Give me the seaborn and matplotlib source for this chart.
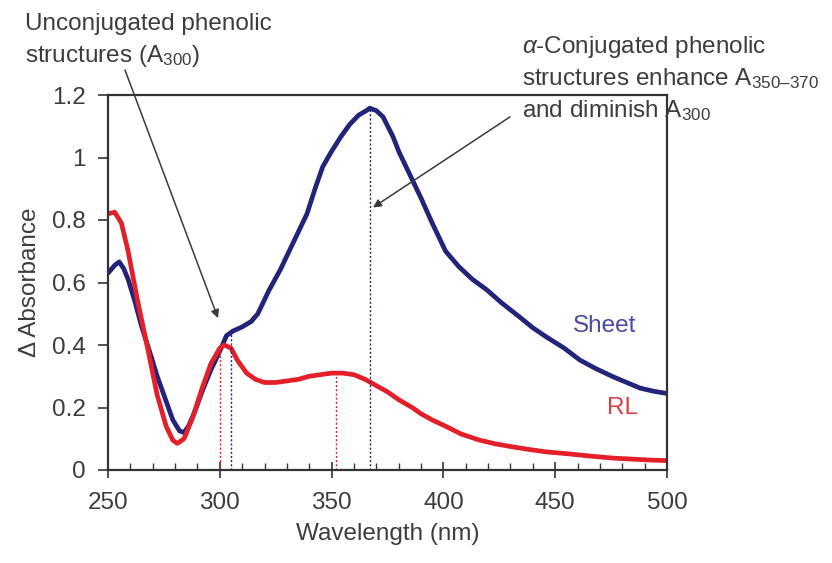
import numpy as np
import pandas as pd
import matplotlib
matplotlib.use("Agg")
import matplotlib.pyplot as plt
import seaborn as sns
from matplotlib.ticker import MultipleLocator, FuncFormatter

# ---------------- data ----------------
sheet_wl = [250, 253, 255, 257, 259, 262, 265, 269, 272, 276, 279, 282, 284, 286, 289,
            292, 296, 300, 303, 306, 310, 314, 317, 322, 327, 331, 335, 339, 342.6, 346,
            350, 354, 358, 362, 366, 367, 370, 373, 377.5, 380, 384, 390, 395, 401, 407,
            413, 419.5, 426, 434, 440, 446, 454, 461, 468, 476, 482, 488, 494, 500]
sheet_abs = [0.63, 0.655, 0.666, 0.645, 0.61, 0.54, 0.46, 0.37, 0.30, 0.22, 0.16, 0.125,
             0.12, 0.14, 0.19, 0.25, 0.32, 0.38, 0.43, 0.445, 0.458, 0.475, 0.50, 0.575,
             0.64, 0.70, 0.76, 0.82, 0.90, 0.97, 1.02, 1.065, 1.105, 1.135, 1.152, 1.158,
             1.15, 1.13, 1.066, 1.02, 0.96, 0.87, 0.79, 0.70, 0.65, 0.61, 0.576, 0.535,
             0.49, 0.455, 0.426, 0.39, 0.352, 0.325, 0.298, 0.28, 0.262, 0.252, 0.245]

rl_wl = [250, 253, 256, 259, 263, 268, 272, 276, 279, 281, 284, 288, 292, 296, 300, 302,
         305, 308, 312, 316, 320, 325, 330, 335, 340, 345, 350, 355, 360, 365, 370, 375,
         380, 386, 390, 395, 401, 408, 416, 423, 431, 438, 446, 454, 461, 468, 476, 484,
         492, 500]
rl_abs = [0.82, 0.825, 0.79, 0.70, 0.55, 0.38, 0.24, 0.14, 0.095, 0.085, 0.10, 0.17, 0.26,
          0.34, 0.39, 0.40, 0.39, 0.35, 0.31, 0.29, 0.28, 0.28, 0.285, 0.29, 0.30, 0.305,
          0.31, 0.31, 0.305, 0.29, 0.27, 0.25, 0.225, 0.20, 0.18, 0.16, 0.14, 0.115,
          0.096, 0.084, 0.074, 0.066, 0.058, 0.053, 0.048, 0.043, 0.038, 0.035, 0.032, 0.03]

# dotted drop lines (wavelength, value, series)
drop_wl = [300, 305, 352, 367]
drop_val = [0.40, 0.44, 0.31, 1.158]
drop_series = ["RL", "Sheet", "RL", "Sheet"]

x_ticks = [250, 300, 350, 400, 450, 500]
y_ticks = [0, 0.2, 0.4, 0.6, 0.8, 1.0, 1.2]

colors = {"Sheet": "#23237a", "RL": "#e3202a"}
label_colors = {"Sheet": "#4a4aa0", "RL": "#d64048"}

df = pd.concat([
    pd.DataFrame({"wl": sheet_wl, "abs": sheet_abs, "series": "Sheet"}),
    pd.DataFrame({"wl": rl_wl, "abs": rl_abs, "series": "RL"}),
])

# ---------------- style ----------------
sns.set_style("ticks")
plt.rcParams["font.family"] = ["Liberation Sans", "DejaVu Sans"]
plt.rcParams["mathtext.fontset"] = "custom"
plt.rcParams["mathtext.rm"] = "Liberation Sans"
plt.rcParams["mathtext.it"] = "Liberation Sans:italic"
plt.rcParams["mathtext.default"] = "regular"

txt = "#3c3c3c"
fs = 17.5

fig = plt.figure(figsize=(8.32, 5.63), dpi=100)
ax = fig.add_axes([108 / 832, 1 - 470 / 563, 559 / 832, 375 / 563])

sns.lineplot(data=df, x="wl", y="abs", hue="series", palette=colors, sort=False,
             linewidth=3.4, legend=False, ax=ax, estimator=None)

for w, v, s in zip(drop_wl, drop_val, drop_series):
    ax.vlines(w, 0, v, colors=colors[s], linestyles=(0, (1.5, 1.5)), linewidth=1.0)

ax.set_xlim(250, 500)
ax.set_ylim(0, 1.2)
ax.set_xticks(x_ticks)
ax.set_yticks(y_ticks)
ax.yaxis.set_major_formatter(FuncFormatter(lambda v, p: f"{v:g}"))
ax.xaxis.set_minor_locator(MultipleLocator(10))
ax.tick_params(axis="x", which="major", direction="inout", length=12, width=1.2,
               colors="#333333", labelcolor=txt, labelsize=fs, pad=10)
ax.tick_params(axis="x", which="minor", direction="in", length=5, width=1.0, colors="#333333")
ax.tick_params(axis="y", which="major", direction="out", length=7, width=1.2,
               colors="#333333", labelcolor=txt, labelsize=fs, pad=9)
for sp in ax.spines.values():
    sp.set_color("#333333")
    sp.set_linewidth(1.6)

ax.set_xlabel("Wavelength (nm)", fontsize=fs, color=txt, labelpad=6)
ax.set_ylabel("Δ Absorbance", fontsize=fs, color=txt, labelpad=8)

# series labels
ax.text(472.3, 0.461, "Sheet", color=label_colors["Sheet"], fontsize=fs,
        ha="center", va="center")
ax.text(479.9, 0.198, "RL", color=label_colors["RL"], fontsize=fs, ha="center", va="center")

# annotations
fig.text(25 / 832, 1 - 30 / 563, "Unconjugated phenolic", fontsize=fs, color=txt,
         va="baseline", ha="left")
fig.text(25 / 832, 1 - 62 / 563, "structures (A$_{300}$)", fontsize=fs, color=txt,
         va="baseline", ha="left")
fig.text(522 / 832, 1 - 53 / 563, r"$\mathit{\alpha}$-Conjugated phenolic", fontsize=fs,
         color=txt, va="baseline", ha="left")
fig.text(522 / 832, 1 - 85 / 563, "structures enhance A$_{350\u2013370}$", fontsize=fs,
         color=txt, va="baseline", ha="left")
fig.text(522 / 832, 1 - 117 / 563, "and diminish A$_{300}$", fontsize=fs, color=txt,
         va="baseline", ha="left")

arrow = dict(arrowstyle="-|>", color="#3a3a3a", lw=1.1, mutation_scale=12,
             shrinkA=0, shrinkB=0)
ax.annotate("", xy=(299.2, 0.486), xytext=(257.6, 1.28), arrowprops=arrow,
            annotation_clip=False)
ax.annotate("", xy=(368.5, 0.84), xytext=(429.8, 1.13), arrowprops=arrow,
            annotation_clip=False)

fig.savefig("out.png", dpi=100)
